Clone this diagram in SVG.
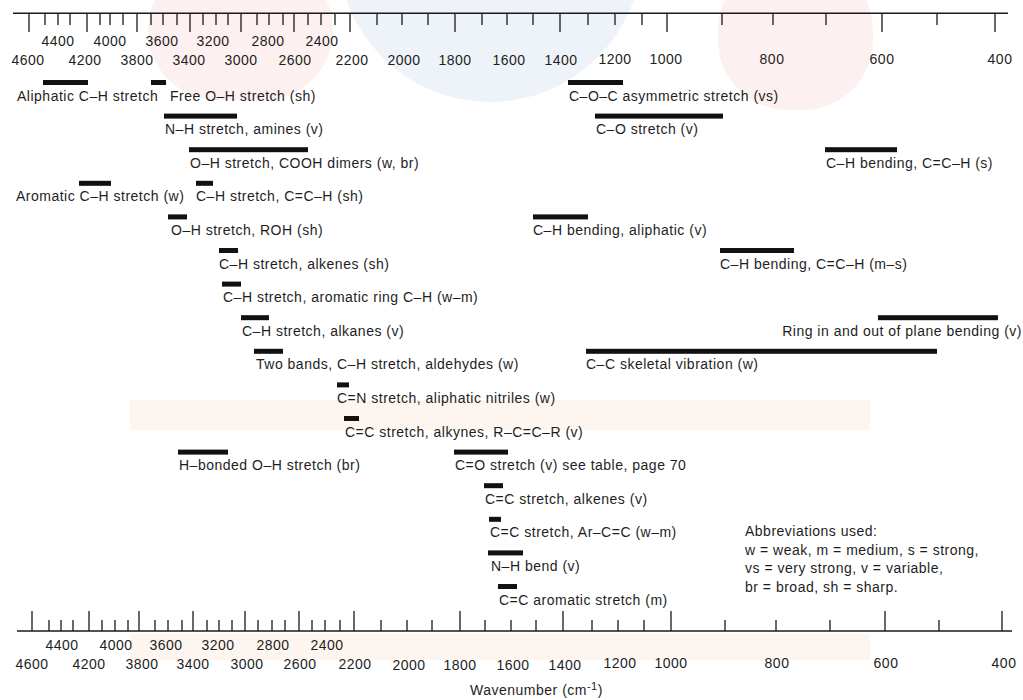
<svg xmlns="http://www.w3.org/2000/svg" width="1023" height="700" viewBox="0 0 1023 700">
<style>
  text { font-family: "Liberation Sans", Arial, sans-serif; font-size: 14px; letter-spacing: 0.5px; fill: #1e1e1e; }
  .num { text-anchor: middle; }
  .bar { fill: #111; }
  .axis { stroke: #1a1a1a; stroke-width: 1.6; fill: none; }
  .tick { stroke: #1a1a1a; stroke-width: 1.3; fill: none; }
</style>
<rect x="0" y="0" width="1023" height="700" fill="#ffffff"/>
<g id="watermark" opacity="1">
  <circle cx="490" cy="-50" r="152" fill="#eef3f9"/>
  <rect x="148" y="-40" width="185" height="140" rx="70" fill="#fdf0f0"/>
  <rect x="718" y="-40" width="155" height="150" rx="70" fill="#fdf0f0"/>
  <rect x="130" y="400" width="740" height="30" fill="#fdf5ef"/>
  <rect x="130" y="634" width="740" height="26" fill="#fdf5ef"/>
</g>
<g id="top-axis">
  <path class="axis" d="M13 13.3 H1008"/>
  <path class="tick" d="M29 13.3V32 M87 13.3V32 M137 13.3V32 M190 13.3V32 M241 13.3V32 M294 13.3V32 M350 13.3V32 M455 13.3V32 M560 13.3V32 M667 13.3V32 M882 13.3V32 M995 13.3V32"/>
  <path class="tick" d="M45 13.3V25 M58 13.3V25 M70 13.3V25 M100 13.3V25 M110 13.3V25 M123 13.3V25 M151 13.3V25 M163 13.3V25 M177 13.3V25 M203 13.3V25 M216 13.3V25 M228 13.3V25 M257 13.3V25 M269 13.3V25 M283 13.3V25 M308 13.3V25 M321 13.3V25 M335 13.3V25 M377 13.3V25 M402 13.3V25 M428 13.3V25 M482 13.3V25 M507 13.3V25 M533 13.3V25 M588 13.3V25 M615 13.3V25 M642 13.3V25 M722 13.3V25 M773 13.3V25 M826 13.3V25 M937 13.3V25"/>
  <text class="num" x="58" y="46">4400</text>
  <text class="num" x="110" y="46">4000</text>
  <text class="num" x="162" y="46">3600</text>
  <text class="num" x="213" y="46">3200</text>
  <text class="num" x="268" y="46">2800</text>
  <text class="num" x="322" y="46">2400</text>
  <text class="num" x="28" y="65">4600</text>
  <text class="num" x="85" y="65">4200</text>
  <text class="num" x="137" y="65">3800</text>
  <text class="num" x="189" y="65">3400</text>
  <text class="num" x="241" y="65">3000</text>
  <text class="num" x="295" y="65">2600</text>
  <text class="num" x="352" y="65">2200</text>
  <text class="num" x="404" y="65">2000</text>
  <text class="num" x="455" y="65">1800</text>
  <text class="num" x="509" y="65">1600</text>
  <text class="num" x="561" y="65">1400</text>
  <text class="num" x="615" y="64">1200</text>
  <text class="num" x="666" y="64">1000</text>
  <text class="num" x="772" y="64">800</text>
  <text class="num" x="882" y="64">600</text>
  <text class="num" x="1000" y="64">400</text>
</g>
<g id="bottom-axis">
  <path class="axis" d="M17 631 H1012"/>
  <path class="tick" d="M32 631V611 M89 631V611 M139 631V611 M193 631V611 M245 631V611 M299 631V611 M354 631V611 M460 631V611 M563 631V611 M671 631V611 M885 631V611 M1002 631V611"/>
  <path class="tick" d="M49 631V620 M61 631V620 M73 631V620 M102 631V620 M115 631V620 M128 631V620 M155 631V620 M168 631V620 M182 631V620 M207 631V620 M219 631V620 M232 631V620 M258 631V620 M272 631V620 M285 631V620 M312 631V620 M325 631V620 M340 631V620 M381 631V620 M407 631V620 M432 631V620 M485 631V620 M511 631V620 M536 631V620 M592 631V620 M618 631V620 M644 631V620 M725 631V620 M776 631V620 M830 631V620 M939 631V620"/>
  <text class="num" x="62" y="650">4400</text>
  <text class="num" x="116" y="650">4000</text>
  <text class="num" x="166" y="650">3600</text>
  <text class="num" x="218" y="650">3200</text>
  <text class="num" x="273" y="650">2800</text>
  <text class="num" x="327" y="650">2400</text>
  <text class="num" x="32" y="669">4600</text>
  <text class="num" x="89" y="669">4200</text>
  <text class="num" x="142" y="669">3800</text>
  <text class="num" x="193" y="669">3400</text>
  <text class="num" x="247" y="669">3000</text>
  <text class="num" x="300" y="669">2600</text>
  <text class="num" x="355" y="669">2200</text>
  <text class="num" x="409" y="670">2000</text>
  <text class="num" x="460" y="670">1800</text>
  <text class="num" x="513" y="670">1600</text>
  <text class="num" x="565" y="670">1400</text>
  <text class="num" x="620" y="668">1200</text>
  <text class="num" x="671" y="668">1000</text>
  <text class="num" x="777" y="668">800</text>
  <text class="num" x="886" y="668">600</text>
  <text class="num" x="1004" y="668">400</text>
  <text x="470" y="695">Wavenumber (cm<tspan dy="-5" font-size="11">-1</tspan><tspan dy="5">)</tspan></text>
</g>
<g id="n-aliphatic-ch"><rect class="bar" x="43" y="80" width="45" height="5"/><text x="17" y="100.5">Aliphatic C–H stretch</text></g>
<g id="n-free-oh"><rect class="bar" x="151" y="80" width="15" height="5"/><text x="170" y="100.5">Free O–H stretch (sh)</text></g>
<g id="n-coc"><rect class="bar" x="568" y="80" width="55" height="5"/><text x="569" y="100.5">C–O–C asymmetric stretch (vs)</text></g>
<g id="n-nh-amines"><rect class="bar" x="164" y="113.6" width="73" height="5"/><text x="165" y="134">N–H stretch, amines (v)</text></g>
<g id="n-co"><rect class="bar" x="595" y="113.6" width="128" height="5"/><text x="596" y="134">C–O stretch (v)</text></g>
<g id="n-oh-cooh"><rect class="bar" x="189" y="147.2" width="119" height="5"/><text x="190" y="167.5">O–H stretch, COOH dimers (w, br)</text></g>
<g id="n-ch-bend-s"><rect class="bar" x="825" y="147.2" width="72" height="5"/><text x="826" y="167.5">C–H bending, C=C–H (s)</text></g>
<g id="n-aromatic-ch"><rect class="bar" x="79" y="180.8" width="32" height="5"/><text x="16" y="201">Aromatic C–H stretch (w)</text></g>
<g id="n-ch-alkyne"><rect class="bar" x="196" y="180.8" width="17" height="5"/><text x="196" y="201">C–H stretch, C=C–H (sh)</text></g>
<g id="n-oh-roh"><rect class="bar" x="168" y="214.4" width="19" height="5"/><text x="171" y="235">O–H stretch, ROH (sh)</text></g>
<g id="n-ch-bend-aliph"><rect class="bar" x="533" y="214.4" width="55" height="5"/><text x="533" y="235">C–H bending, aliphatic (v)</text></g>
<g id="n-ch-alkenes"><rect class="bar" x="219" y="248" width="19" height="5"/><text x="219" y="268.5">C–H stretch, alkenes (sh)</text></g>
<g id="n-ch-bend-ms"><rect class="bar" x="720" y="248" width="74" height="5"/><text x="720" y="268.5">C–H bending, C=C–H (m–s)</text></g>
<g id="n-ch-aromatic-ring"><rect class="bar" x="222" y="281.6" width="19" height="5"/><text x="223" y="302">C–H stretch, aromatic ring C–H (w–m)</text></g>
<g id="n-ch-alkanes"><rect class="bar" x="241" y="315.2" width="28" height="5"/><text x="242" y="335.5">C–H stretch, alkanes (v)</text></g>
<g id="n-ring"><rect class="bar" x="878" y="315.2" width="120" height="5"/><text x="1022" y="335.5" text-anchor="end">Ring in and out of plane bending (v)</text></g>
<g id="n-aldehydes"><rect class="bar" x="254" y="348.8" width="29" height="5"/><text x="256" y="369">Two bands, C–H stretch, aldehydes (w)</text></g>
<g id="n-cc-skeletal"><rect class="bar" x="586" y="348.8" width="351" height="5"/><text x="586" y="369">C–C skeletal vibration (w)</text></g>
<g id="n-nitriles"><rect class="bar" x="337" y="382.4" width="12" height="5"/><text x="337" y="403">C=N stretch, aliphatic nitriles (w)</text></g>
<g id="n-alkynes"><rect class="bar" x="344" y="416" width="15" height="5"/><text x="345" y="436.5">C=C stretch, alkynes, R–C=C–R (v)</text></g>
<g id="n-hbonded-oh"><rect class="bar" x="178" y="449.6" width="50" height="5"/><text x="179" y="470">H–bonded O–H stretch (br)</text></g>
<g id="n-co-stretch"><rect class="bar" x="454" y="449.6" width="54" height="5"/><text x="455" y="470">C=O stretch (v) see table, page 70</text></g>
<g id="n-cc-alkenes"><rect class="bar" x="484" y="483.2" width="19" height="5"/><text x="485" y="503.5">C=C stretch, alkenes (v)</text></g>
<g id="n-cc-ar"><rect class="bar" x="489" y="516.8" width="12" height="5"/><text x="490" y="537">C=C stretch, Ar–C=C (w–m)</text></g>
<g id="n-nh-bend"><rect class="bar" x="488" y="550.4" width="35" height="5"/><text x="491" y="571">N–H bend (v)</text></g>
<g id="n-cc-aromatic"><rect class="bar" x="498" y="584" width="19" height="5"/><text x="499" y="604.5">C=C aromatic stretch (m)</text></g>
<g id="abbreviations">
  <text x="745" y="536">Abbreviations used:</text>
  <text x="745" y="554.5">w = weak, m = medium, s = strong,</text>
  <text x="745" y="573">vs = very strong, v = variable,</text>
  <text x="745" y="591.5">br = broad, sh = sharp.</text>
</g>
</svg>
